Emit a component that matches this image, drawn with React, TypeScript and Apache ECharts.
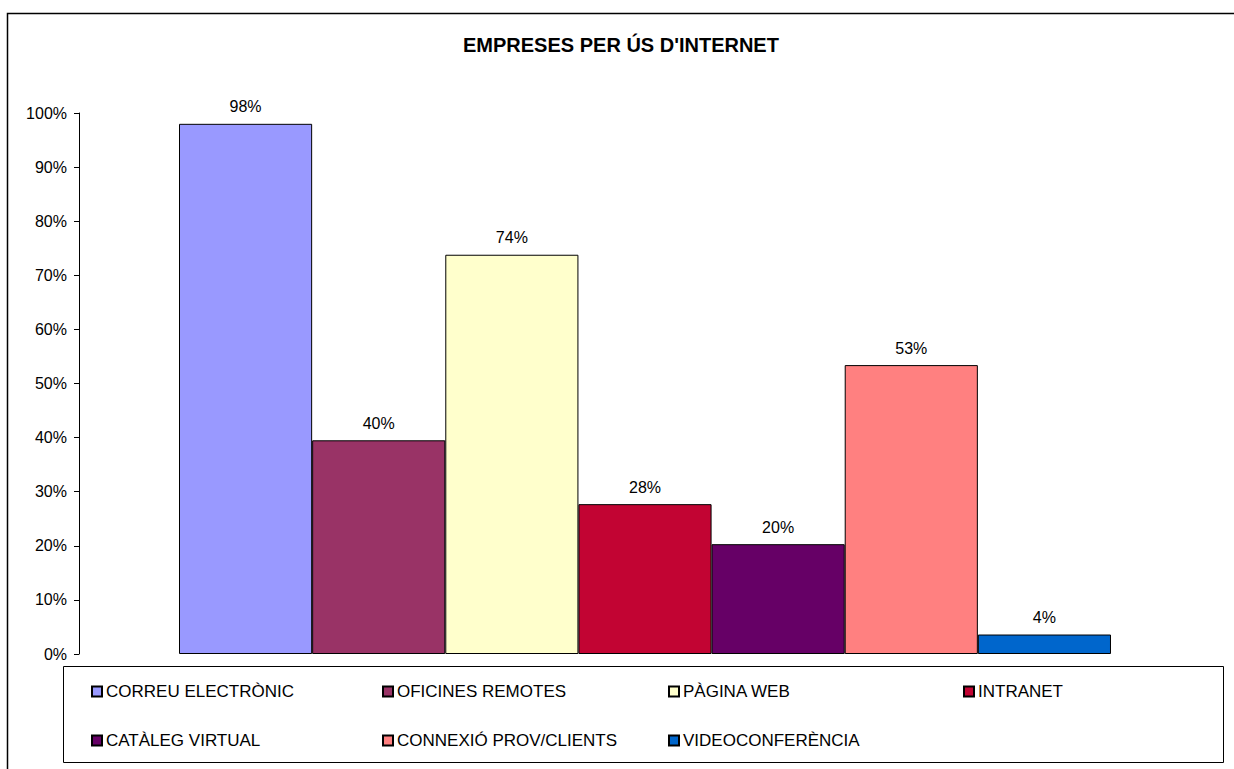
import React, { useEffect, useRef } from "react";
import * as echarts from "echarts";

const categories = ["Empreses"];
const seriesNames = [
  "CORREU ELECTRÒNIC",
  "OFICINES REMOTES",
  "PÀGINA WEB",
  "INTRANET",
  "CATÀLEG VIRTUAL",
  "CONNEXIÓ PROV/CLIENTS",
  "VIDEOCONFERÈNCIA",
];
const seriesValues = [98.0, 39.5, 73.8, 27.7, 20.3, 53.4, 3.6];
const seriesColors = ["#9999FF", "#993366", "#FFFFCC", "#C20433", "#660066", "#FF8080", "#0066CC"];
const yTicks = { min: 0, max: 100, interval: 10 };
const titleText = "EMPRESES PER ÚS D'INTERNET";

const FONT = "'Liberation Sans', Arial, sans-serif";

export default function App() {
  const ref = useRef<HTMLDivElement>(null);
  useEffect(() => {
    if (!ref.current) return;
    const chart = echarts.init(ref.current, null, { renderer: "svg" });
    const legendPos = [
      [91, 683],
      [382, 683],
      [668, 683],
      [963, 683],
      [91, 732],
      [382, 732],
      [668, 732],
    ];
    chart.setOption({
      animation: false,
      backgroundColor: "#ffffff",
      textStyle: { fontFamily: FONT, color: "#000" },
      title: {
        text: titleText,
        left: 463,
        top: 35,
        padding: 0,
        textStyle: { fontFamily: FONT, fontSize: 20, fontWeight: "bold", color: "#000" },
      },
      grid: { left: 79, right: 23, top: 113, bottom: 115, containLabel: false },
      xAxis: {
        type: "category",
        data: categories,
        show: false,
      },
      yAxis: {
        type: "value",
        min: yTicks.min,
        max: yTicks.max,
        interval: yTicks.interval,
        axisLine: { show: true, lineStyle: { color: "#000", width: 1 } },
        axisTick: { show: true, length: 5, inside: false, lineStyle: { color: "#000" } },
        splitLine: { show: false },
        axisLabel: {
          formatter: "{value}%",
          fontFamily: FONT,
          fontSize: 16,
          color: "#000",
          margin: 12,
        },
      },
      legend: seriesNames.map((name, i) => ({
        data: [name],
        left: legendPos[i][0],
        top: legendPos[i][1],
        padding: 0,
        itemWidth: 10,
        itemHeight: 10,
        itemGap: 0,
        icon: "rect",
        selectedMode: false,
        textStyle: { fontFamily: FONT, fontSize: 17, color: "#000", padding: [0, 0, 0, -1] },
      })),
      series: seriesNames.map((name, i) => ({
        name,
        type: "bar",
        data: [seriesValues[i]],
        barGap: "0%",
        barCategoryGap: "17.67%",
        itemStyle: { color: seriesColors[i], borderColor: "#000", borderWidth: 1 },
        label: {
          show: true,
          position: "top",
          distance: 9,
          fontFamily: FONT,
          fontSize: 16,
          color: "#000",
          formatter: (p: any) => Math.round(p.value) + "%",
        },
      })),
      graphic: [
        {
          type: "rect",
          silent: true,
          shape: { x: 7.5, y: 13.5, width: 1300, height: 800 },
          style: { fill: "none", stroke: "#000", lineWidth: 1.5 },
          z: -1,
        },
        {
          type: "rect",
          silent: true,
          shape: { x: 63.5, y: 666.5, width: 1160, height: 96 },
          style: { fill: "#fff", stroke: "#000", lineWidth: 1 },
          z: -1,
        },
      ],
    });
    return () => chart.dispose();
  }, []);
  return (
    <div
      ref={ref}
      style={{ position: "fixed", left: 0, top: 0, width: 1234, height: 769, background: "#fff" }}
    />
  );
}
